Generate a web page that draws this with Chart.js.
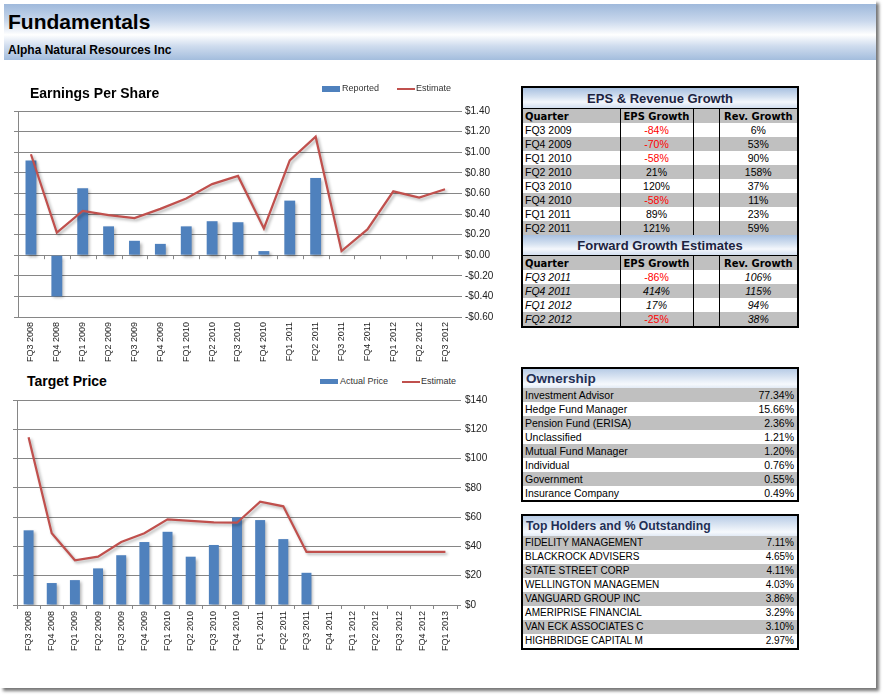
<!DOCTYPE html>
<html>
<head>
<meta charset="utf-8">
<script src="https://cdn.jsdelivr.net/npm/chart.js"></script>
<style>
  body { margin:0; background:#fff; font-family:"Liberation Sans", Arial, sans-serif; }
  #page { position:absolute; left:0; top:0; width:876px; height:688px; background:#fff; box-shadow:3px 3px 3px #777; }
  #band { position:absolute; left:4px; top:4px; width:872px; height:56px;
    background:linear-gradient(to bottom,#9fb9db 0%,#c8d7ec 30%,#ffffff 55%,#cfdcee 75%,#a3bddd 100%); }
  #band h1 { position:absolute; left:4px; top:6px; margin:0; font:bold 21px "Liberation Sans", Arial, sans-serif; color:#000; }
  #band h2 { position:absolute; left:4px; top:39px; margin:0; font:bold 12px "Liberation Sans", Arial, sans-serif; color:#000; }
  .ctitle { position:absolute; font:bold 14px "Liberation Sans", Arial, sans-serif; color:#000; z-index:2; }
  .leg { position:absolute; font:9px "Liberation Sans", Arial, sans-serif; color:#333; z-index:2; }
  .box { position:absolute; background:#4f81bd; }
  .ln { position:absolute; background:#c0504d; height:2px; }
  canvas { position:absolute; left:0; }
  .tbl { position:absolute; left:521px; width:274px; border:2px solid #000; background:#fff; }
  .tbl table { border-collapse:collapse; table-layout:fixed; width:274px; }
  .tbl td { height:14px; padding:0 2px; font:10.5px "Liberation Sans", Arial, sans-serif; color:#000; white-space:nowrap; overflow:hidden; line-height:14px; }
  .tbl tr.g td { background:#c0c0c0; }
  .tbl td.ttl { height:20px; text-align:center; font:bold 13px "Liberation Sans", Arial, sans-serif; color:#1c2340;
    background:linear-gradient(to bottom,#a9c1e1 0%,#d6e2f1 45%,#f4f7fc 70%,#d3dff0 100%); }
  .tbl td.ttl.l { text-align:left; padding-left:3px; color:#1f2f55;
    background:linear-gradient(to bottom,#b8cce6 0%,#dfe8f4 50%,#f6f9fd 80%,#e2eaf5 100%); }
  .tbl tr.hd td { background:#c0c0c0; font:bold 10px "DejaVu Sans", Verdana, sans-serif; border-top:1px solid #000; height:14px; }
  .tbl td.v { border-left:1px solid #000; text-align:center; }
  .tbl td.r { text-align:right; padding-right:3px; }
  .tbl td.neg { color:#ff0000; }
  .tbl tr.it td { font-style:italic; }
  .tbl tr.it td.neg { font-style:normal; }
</style>
</head>
<body>
<div id="page"></div>
<div id="band"><h1>Fundamentals</h1><h2>Alpha Natural Resources Inc</h2></div>

<div class="ctitle" style="left:30px;top:85px;">Earnings Per Share</div>
<div class="box" style="left:322px;top:86px;width:18px;height:6px;"></div>
<div class="leg" style="left:342px;top:83px;">Reported</div>
<div class="ln" style="left:397px;top:88px;width:18px;"></div>
<div class="leg" style="left:416px;top:83px;">Estimate</div>
<canvas id="eps" width="500" height="272" style="top:100px;"></canvas>

<div class="ctitle" style="left:27px;top:373px;">Target Price</div>
<div class="box" style="left:320px;top:379px;width:18px;height:5px;"></div>
<div class="leg" style="left:340px;top:376px;">Actual Price</div>
<div class="ln" style="left:402px;top:381px;width:18px;"></div>
<div class="leg" style="left:421px;top:376px;">Estimate</div>
<canvas id="price" width="500" height="272" style="top:390px;"></canvas>

<div class="tbl" id="growth" style="top:86px;"></div>
<div class="tbl" id="owner" style="top:367px;"></div>
<div class="tbl" id="holders" style="top:514px;"></div>

<script>
// EPS chart
var epsQuarters = ["FQ3 2008","FQ4 2008","FQ1 2009","FQ2 2009","FQ3 2009","FQ4 2009","FQ1 2010","FQ2 2010","FQ3 2010","FQ4 2010","FQ1 2011","FQ2 2011","FQ3 2011","FQ4 2011","FQ1 2012","FQ2 2012","FQ3 2012"];
var epsReported = [0.92,-0.40,0.65,0.28,0.14,0.11,0.28,0.33,0.32,0.04,0.53,0.75,null,null,null,null,null];
var epsEstimate = [0.98,0.22,0.43,0.39,0.36,0.45,0.55,0.69,0.77,0.26,0.92,1.15,0.04,0.25,0.62,0.56,0.64];

// Target price chart
var priceQuarters = ["FQ3 2008","FQ4 2008","FQ1 2009","FQ2 2009","FQ3 2009","FQ4 2009","FQ1 2010","FQ2 2010","FQ3 2010","FQ4 2010","FQ1 2011","FQ2 2011","FQ3 2011","FQ4 2011","FQ1 2012","FQ2 2012","FQ3 2012","FQ4 2012","FQ1 2013"];
var priceActual = [51,15,17,25,34,43,50,33,41,60,58,45,22,null,null,null,null,null,null];
var priceEstimate = [114.5,49,30.5,33,43,49,58.5,57.5,56.5,56.2,70.6,67.4,36.2,36.2,36.2,36.2,36.2,36.2,36.2];

// tables
var growthQuarters = ["FQ3 2009","FQ4 2009","FQ1 2010","FQ2 2010","FQ3 2010","FQ4 2010","FQ1 2011","FQ2 2011"];
var growthEps = [-84,-70,-58,21,120,-58,89,121];
var growthRev = [6,53,90,158,37,11,23,59];
var fwdQuarters = ["FQ3 2011","FQ4 2011","FQ1 2012","FQ2 2012"];
var fwdEps = [-86,414,17,-25];
var fwdRev = [106,115,94,38];
var ownerTypes = ["Investment Advisor","Hedge Fund Manager","Pension Fund (ERISA)","Unclassified","Mutual Fund Manager","Individual","Government","Insurance Company"];
var ownerPct = ["77.34","15.66","2.36","1.21","1.20","0.76","0.55","0.49"];
var holderNames = ["FIDELITY MANAGEMENT","BLACKROCK ADVISERS","STATE STREET CORP","WELLINGTON MANAGEMEN","VANGUARD GROUP INC","AMERIPRISE FINANCIAL","VAN ECK ASSOCIATES C","HIGHBRIDGE CAPITAL M"];
var holderPct = ["7.11","4.65","4.11","4.03","3.86","3.29","3.10","2.97"];

var gridColor = '#868686';
var tickFont = { family: 'Liberation Sans', size: 9 };
var yFont = { family: 'Liberation Sans', size: 10 };

var shadow = {
  id: 'shadow',
  beforeDatasetDraw: function (chart) {
    var c = chart.ctx; c.save();
    c.shadowColor = 'rgba(0,0,0,0.3)'; c.shadowBlur = 3; c.shadowOffsetX = 2; c.shadowOffsetY = 2;
  },
  afterDatasetDraw: function (chart) { chart.ctx.restore(); }
};

var zeroTicks = {
  id: 'zeroTicks',
  afterDraw: function (chart) {
    var x = chart.scales.x, y0 = chart.scales.y.getPixelForValue(0), c = chart.ctx;
    c.save(); c.strokeStyle = gridColor; c.lineWidth = 1; c.beginPath();
    for (var i = 0; i <= x.ticks.length; i++) {
      var px = Math.round(x.getPixelForValue(i - 0.5)) + 0.5;
      c.moveTo(px, y0); c.lineTo(px, y0 + 4);
    }
    c.stroke(); c.restore();
  }
};

function money2(v) { return (v < -0.001 ? '-' : '') + '$' + Math.abs(v).toFixed(2); }

new Chart("eps", {
  type: 'bar',
  data: {
    labels: epsQuarters,
    datasets: [
      { type: 'line', label: 'Estimate', data: epsEstimate, borderColor: '#c0504d', borderWidth: 2.25, pointRadius: 0, tension: 0, order: 0 },
      { label: 'Reported', data: epsReported, backgroundColor: '#4f81bd', barPercentage: 0.42, categoryPercentage: 1, order: 1 }
    ]
  },
  options: {
    responsive: false, animation: false,
    layout: { padding: { left: 14, top: 11, right: 0, bottom: 0 } },
    plugins: { legend: { display: false }, tooltip: { enabled: false } },
    scales: {
      x: { grid: { display: false, drawTicks: false }, border: { display: false },
           ticks: { minRotation: 90, maxRotation: 90, autoSkip: false, padding: 5, font: tickFont, color: '#222' },
           afterFit: function (s) { s.height = 55; } },
      y: { position: 'right', min: -0.6, max: 1.4,
           ticks: { stepSize: 0.2, padding: 3, font: yFont, color: '#222', callback: money2 },
           grid: { color: gridColor, tickLength: 4 }, border: { display: false },
           afterFit: function (s) { s.width = 42; } },
      yl: { position: 'left', min: -0.6, max: 1.4,
            ticks: { display: false, stepSize: 0.2 },
            grid: { drawOnChartArea: false, tickLength: 4, color: gridColor }, border: { color: gridColor },
            afterFit: function (s) { s.width = 4; } }
    }
  },
  plugins: [shadow, zeroTicks]
});

new Chart("price", {
  type: 'bar',
  data: {
    labels: priceQuarters,
    datasets: [
      { type: 'line', label: 'Estimate', data: priceEstimate, borderColor: '#c0504d', borderWidth: 2.25, pointRadius: 0, tension: 0, order: 0 },
      { label: 'Actual Price', data: priceActual, backgroundColor: '#4f81bd', barPercentage: 0.43, categoryPercentage: 1, order: 1 }
    ]
  },
  options: {
    responsive: false, animation: false,
    layout: { padding: { left: 13, top: 10, right: 0, bottom: 0 } },
    plugins: { legend: { display: false }, tooltip: { enabled: false } },
    scales: {
      x: { grid: { drawOnChartArea: false, drawTicks: true, tickLength: 4, color: gridColor, offset: true }, border: { color: gridColor },
           ticks: { minRotation: 90, maxRotation: 90, autoSkip: false, padding: 2, font: tickFont, color: '#222' },
           afterFit: function (s) { s.height = 57; } },
      y: { position: 'right', min: 0, max: 140,
           ticks: { stepSize: 20, padding: 4, font: yFont, color: '#222', callback: function (v) { return '$' + v; } },
           grid: { color: gridColor, tickLength: 4 }, border: { display: false },
           afterFit: function (s) { s.width = 43; } },
      yl: { position: 'left', min: 0, max: 140,
            ticks: { display: false, stepSize: 20 },
            grid: { drawOnChartArea: false, tickLength: 4, color: gridColor }, border: { color: gridColor },
            afterFit: function (s) { s.width = 4; } }
    }
  },
  plugins: [shadow]
});

// growth table
function pct(v) { return v + '%'; }
function growthRows(qs, eps, rev, cls) {
  var h = '';
  for (var i = 0; i < qs.length; i++) {
    h += '<tr class="' + (i % 2 ? 'g ' : '') + cls + '"><td>' + qs[i] + '</td>' +
      '<td class="v' + (eps[i] < 0 ? ' neg' : '') + '">' + pct(eps[i]) + '</td>' +
      '<td class="v"></td><td class="v">' + pct(rev[i]) + '</td></tr>';
  }
  return h;
}
var head = '<tr class="hd"><td>Quarter</td><td class="v">EPS Growth</td><td class="v"></td><td class="v">Rev. Growth</td></tr>';
var cols = '<colgroup><col style="width:97px"><col style="width:73px"><col style="width:26px"><col style="width:78px"></colgroup>';
document.getElementById('growth').innerHTML = '<table>' + cols +
  '<tr><td class="ttl" colspan="4">EPS &amp; Revenue Growth</td></tr>' + head +
  growthRows(growthQuarters, growthEps, growthRev, '') +
  '<tr><td class="ttl" colspan="4">Forward Growth Estimates</td></tr>' + head +
  growthRows(fwdQuarters, fwdEps, fwdRev, 'it') + '</table>';

function listTable(id, title, names, vals, size, tsize, th) {
  var h = '<table><colgroup><col style="width:200px"><col style="width:74px"></colgroup>' +
    '<tr><td class="ttl l" colspan="2" style="height:' + th + 'px;font-size:' + tsize + 'px">' + title + '</td></tr>';
  for (var i = 0; i < names.length; i++) {
    h += '<tr class="' + (i % 2 ? '' : 'g') + '"><td style="font-size:' + size + 'px">' + names[i] +
      '</td><td class="r" style="font-size:' + size + 'px">' + vals[i] + '%</td></tr>';
  }
  document.getElementById(id).innerHTML = h + '</table>';
}
listTable('owner', 'Ownership', ownerTypes, ownerPct, 10.5, 13.5, 19);
listTable('holders', 'Top Holders and % Outstanding', holderNames, holderPct, 10, 12.2, 20);
</script>
</body>
</html>
